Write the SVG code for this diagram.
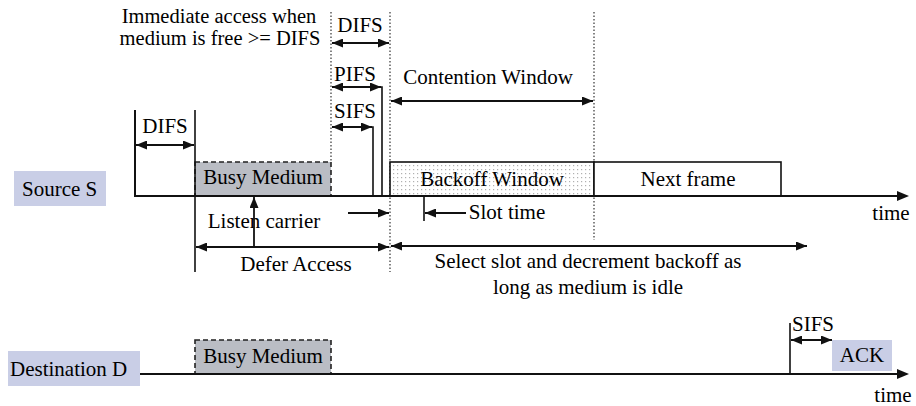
<svg xmlns="http://www.w3.org/2000/svg" width="916" height="406" viewBox="0 0 916 406">
  <defs>
    <marker id="head" markerUnits="userSpaceOnUse" markerWidth="11" markerHeight="9" refX="11" refY="4.5" orient="auto-start-reverse">
      <path d="M0,0 L11,4.5 L0,9 z" fill="#111"/>
    </marker>
    <pattern id="dots" width="4" height="4" patternUnits="userSpaceOnUse">
      <rect width="4" height="4" fill="#fff"/>
      <rect x="1" y="1" width="1.2" height="1.2" fill="#b0b0b0"/>
    </pattern>
  </defs>

  <!-- station labels -->
  <g id="source-label">
    <rect fill="#c9cee6" x="14" y="171" width="92" height="35"/>
    <text x="22" y="196" font-family="Times New Roman" font-size="21">Source S</text>
  </g>
  <g id="destination-label">
    <rect fill="#c9cee6" x="8" y="351" width="132" height="35"/>
    <text x="10" y="376" font-family="Times New Roman" font-size="21">Destination D</text>
  </g>

  <!-- timing reference lines -->
  <g id="guides" stroke="#333" stroke-width="1.2" stroke-dasharray="1.5 2" fill="none">
    <line x1="331" y1="12" x2="331" y2="162"/>
    <line x1="390" y1="12" x2="390" y2="272"/>
    <line x1="594" y1="12" x2="594" y2="240"/>
  </g>

  <!-- source timeline frames -->
  <g id="source-busy">
    <rect fill="#babdc4" stroke="#222" stroke-width="1.6" stroke-dasharray="5 3" x="195" y="162" width="136" height="34"/>
    <text x="263" y="184" text-anchor="middle" font-family="Times New Roman" font-size="21">Busy Medium</text>
  </g>
  <g id="backoff-window">
    <rect x="390" y="162" width="204" height="34" fill="url(#dots)" stroke="#111" stroke-width="1.6"/>
    <text x="492" y="186" text-anchor="middle" font-family="Times New Roman" font-size="21">Backoff Window</text>
  </g>
  <g id="next-frame">
    <rect fill="#fff" stroke="#111" stroke-width="1.6" x="594" y="162" width="187" height="34"/>
    <text x="688" y="186" text-anchor="middle" font-family="Times New Roman" font-size="21">Next frame</text>
  </g>

  <!-- destination timeline frames -->
  <g id="destination-busy">
    <rect fill="#babdc4" stroke="#222" stroke-width="1.6" stroke-dasharray="5 3" x="195" y="340" width="136" height="34"/>
    <text x="263" y="363" text-anchor="middle" font-family="Times New Roman" font-size="21">Busy Medium</text>
  </g>
  <g id="ack">
    <rect fill="#c9cee6" x="832" y="340" width="60" height="31"/>
    <text x="862" y="362" text-anchor="middle" font-family="Times New Roman" font-size="21">ACK</text>
  </g>

  <!-- annotations -->
  <g id="labels">
    <text x="219" y="23" text-anchor="middle" font-family="Times New Roman" font-size="20.5">Immediate access when</text>
    <text x="220" y="45" text-anchor="middle" font-family="Times New Roman" font-size="20.5">medium is free &gt;= DIFS</text>
    <text x="360" y="32" text-anchor="middle" font-family="Times New Roman" font-size="21">DIFS</text>
    <text x="355" y="81" text-anchor="middle" font-family="Times New Roman" font-size="21">PIFS</text>
    <text x="355" y="118" text-anchor="middle" font-family="Times New Roman" font-size="21">SIFS</text>
    <text x="165" y="133" text-anchor="middle" font-family="Times New Roman" font-size="21">DIFS</text>
    <text x="488" y="84" text-anchor="middle" font-family="Times New Roman" font-size="21">Contention Window</text>
    <text x="264" y="228" text-anchor="middle" font-family="Times New Roman" font-size="21">Listen carrier</text>
    <text x="507" y="219" text-anchor="middle" font-family="Times New Roman" font-size="21">Slot time</text>
    <text x="296" y="271" text-anchor="middle" font-family="Times New Roman" font-size="21">Defer Access</text>
    <text x="588" y="268" text-anchor="middle" font-family="Times New Roman" font-size="21">Select slot and decrement backoff as</text>
    <text x="588" y="294" text-anchor="middle" font-family="Times New Roman" font-size="21">long as medium is idle</text>
    <text x="891" y="220" text-anchor="middle" font-family="Times New Roman" font-size="21">time</text>
    <text x="813" y="331" text-anchor="middle" font-family="Times New Roman" font-size="21">SIFS</text>
    <text x="893" y="402" text-anchor="middle" font-family="Times New Roman" font-size="21">time</text>
  </g>

  <!-- axes and connectors -->
  <g id="connectors" stroke="#111" fill="none">
    <!-- source time axis -->
    <polyline stroke-width="2" points="135,110 135,196 195,196"/>
    <line stroke-width="2" x1="195" y1="196" x2="898" y2="196"/>
    <path d="M897,191 L909,196 L897,201 z" fill="#111" stroke="none"/>
    <line stroke-width="1.6" x1="195" y1="110" x2="195" y2="272"/>
    <!-- destination time axis -->
    <line stroke-width="2" x1="140" y1="374" x2="898" y2="374"/>
    <path d="M897,369 L909,374 L897,379 z" fill="#111" stroke="none"/>

    <!-- interval spans -->
    <g stroke-width="1.8" marker-start="url(#head)" marker-end="url(#head)">
      <line x1="136" y1="145" x2="194" y2="145"/>
      <line x1="332" y1="43" x2="389" y2="43"/>
      <line x1="332" y1="87" x2="381" y2="87"/>
      <line x1="332" y1="127" x2="372" y2="127"/>
      <line x1="391" y1="101" x2="593" y2="101"/>
      <line x1="196" y1="247" x2="389" y2="247"/>
      <line x1="391" y1="246" x2="807" y2="246"/>
      <line x1="791" y1="340" x2="832" y2="340"/>
    </g>
    <!-- interval end ticks -->
    <g stroke-width="1.6">
      <polyline points="381,87 382,87 382,196"/>
      <polyline points="372,127 373,127 373,196"/>
      <line x1="424" y1="196" x2="424" y2="221"/>
      <line x1="790" y1="323" x2="790" y2="374"/>
    </g>
    <!-- single-headed pointers -->
    <g stroke-width="1.8" marker-end="url(#head)">
      <line x1="254" y1="248" x2="254" y2="197"/>
      <line x1="348" y1="213" x2="389" y2="213"/>
      <line x1="466" y1="213" x2="425" y2="213"/>
    </g>
  </g>
</svg>
